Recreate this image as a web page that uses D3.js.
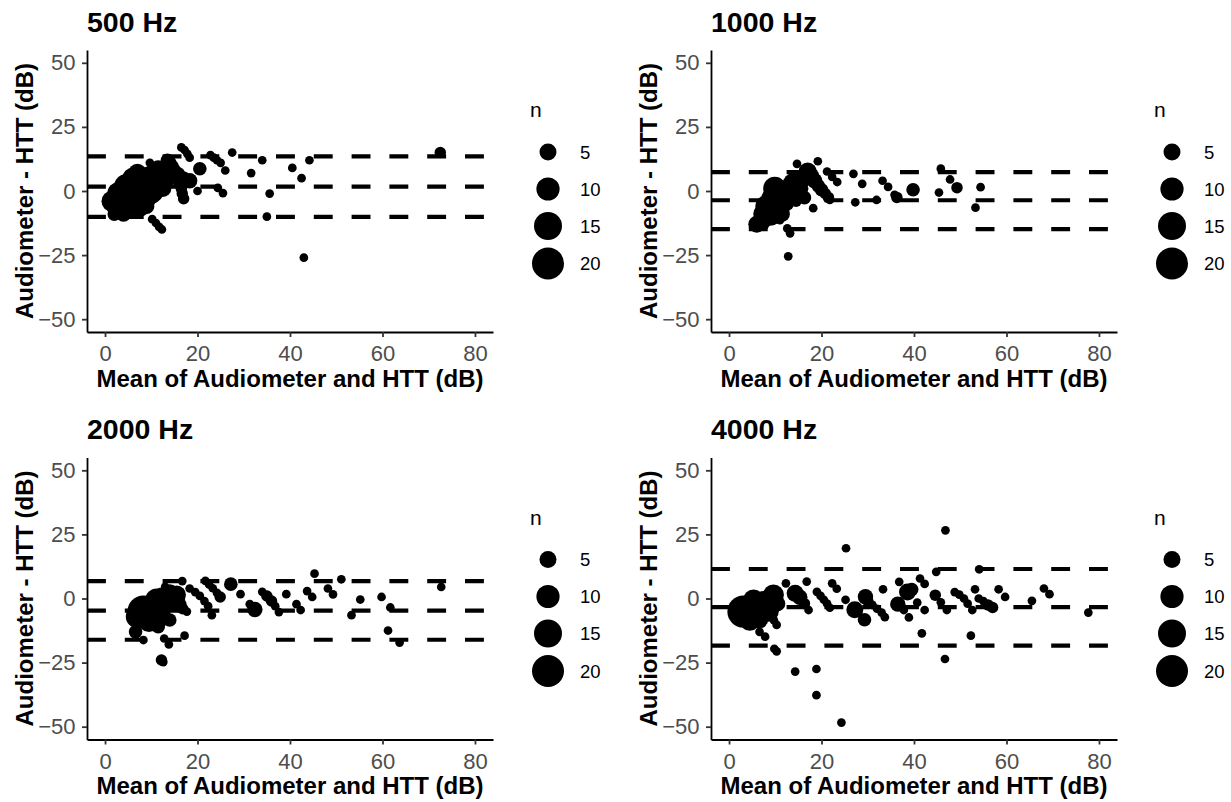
<!DOCTYPE html>
<html>
<head>
<meta charset="utf-8">
<script src="https://cdn.jsdelivr.net/npm/d3@7"></script>
<style>
body { margin: 0; background: #fff; }
svg { display: block; font-family: "Liberation Sans", Arial, sans-serif; }
</style>
</head>
<body>
<div id="chart"></div>
<script>
var titles = ['500 Hz', '1000 Hz', '2000 Hz', '4000 Hz'];
var xTicks = [0, 20, 40, 60, 80];
var yTicks = [-50, -25, 0, 25, 50];
var legendN = [5, 10, 15, 20];

// [mean, difference, n]
var pts500 = [
	[72.5, 15, 2], [44.2, 12, 1], [42.5, 5, 1], [40.5, 9, 1], [43, -26, 1], [35, -10, 1], [35.6, -1, 1],
	[34, 12, 1], [31.6, 7, 1], [27.5, 15, 1], [26, 8, 1], [25.5, -0.8, 1], [24.4, 1.2, 1],
	[22.8, 14, 1], [23.5, 13, 1], [24.2, 12, 1], [25, 11, 1], [20.5, 8.7, 3], [20, 0, 1],
	[16.5, 17, 1], [17.2, 16, 1], [17.8, 14.5, 1], [18.3, 13, 1],
	[13.5, 12, 3], [14, 11, 3], [14.5, 9.5, 3], [15, 8, 3], [15.5, 6.5, 3], [16, 5, 2], [16.2, 3, 3],
	[16.5, 1, 2], [16.7, -1, 2], [17, -3, 2], [16, 7, 2], [17, 5.5, 2], [18.3, 4, 4],
	[10.2, -11, 1], [11, -12.5, 1], [11.7, -14, 1], [12.3, -15, 1], [9.7, 11, 1], [11.2, -1.5, 2],
	[1.5, -4, 8], [2.5, -7, 6], [3, -1, 10], [3.5, -6, 12], [4.5, 2, 10], [5, -4, 16], [6, 5, 8],
	[6.5, -1, 20], [7, 7, 6], [7.5, -6, 8], [8, 2, 14], [8.5, -3, 10], [9.5, 5, 10], [10, -1, 8],
	[10.5, 7, 6], [11, 3, 10], [11.5, 9, 4], [12, 5, 6], [12.5, 1, 5], [12.8, 8, 4], [13.5, 4, 3],
	[9, -6, 4], [4, -9, 4], [2, -9, 3]
];
var pts1000 = [
	[54.4, 1.5, 1], [53.3, -6.5, 1], [49.3, 1.3, 2], [47.8, 4.5, 1], [45.8, 8.7, 1], [45.4, -0.6, 1],
	[39.8, 0.5, 3], [36.3, -2.5, 2], [35.8, -1.5, 1], [34.4, 1.6, 1], [33.2, 4, 1], [31.9, -3.5, 1],
	[28.8, 2.8, 1], [27.3, -4.4, 1], [26.9, 6.7, 1], [23.4, 3.5, 1], [22.3, 5.5, 1], [21.2, 7.6, 1],
	[19.2, 11.6, 1], [18.2, -6.7, 1], [14.7, 10.6, 1], [12.8, -25.5, 1], [13.2, -16.5, 1],
	[12.6, -14.6, 1], [11, -11.4, 1],
	[17, 7.5, 6], [17.8, 6, 4], [18.5, 4, 4], [19.3, 2, 3], [20, 0.5, 3], [20.8, -1, 2], [21.5, -2.5, 2],
	[21.8, -3.5, 1], [16.3, -2.6, 3],
	[6, -13, 5], [7, -12, 6], [7.5, -9, 8], [8.2, -6, 10], [9, -10, 6], [9.5, -3, 10], [9.9, 1, 10],
	[10.5, -6, 8], [11, -2, 8], [11.5, -9, 4], [12, -4, 8], [12.5, 0, 6], [13, -1.5, 10], [13.9, 2.9, 8],
	[14.5, -0.5, 6], [15, 4, 6], [15.5, 1, 4], [16, 5, 6], [14.5, -4, 2]
];
var pts2000 = [
	[72.7, 4.5, 1], [63.7, -17.2, 1], [61.2, -12.5, 1], [61.7, -3.5, 1], [59.8, 0.6, 1], [55.2, -0.4, 1],
	[53.3, -6.5, 1], [51.1, 7.5, 1], [49.3, 1.6, 1], [48.2, 3.9, 1], [45.3, 9.7, 1], [44.8, 0.6, 1],
	[43.7, 2.9, 1], [42.3, -4.5, 1], [41.4, -2.2, 1], [39.2, 1.7, 1],
	[34, 2.6, 1], [35, 1, 2], [36, -1, 2], [36.8, -3, 1], [37.6, -5.3, 1],
	[32.4, -4.3, 4], [31.3, -2.2, 1], [29.3, 1.7, 1], [27.2, 5.6, 3],
	[21.7, 6.9, 1], [22.5, 5.5, 1], [23.3, 4, 1], [24.2, 2.2, 1], [24.9, 0.6, 2],
	[18.3, 3.9, 1], [19.5, 2.5, 1], [20.5, 1, 1], [21.5, -1, 1], [22.3, -3, 1], [23.1, -6.5, 1],
	[16.7, 6.8, 1], [17.2, -14.5, 1], [13.8, -17.9, 1], [12.8, -15.6, 1], [12.2, -24, 2], [12.6, -24.8, 1],
	[8.3, -16.2, 1], [6.6, -13, 3], [17.7, -5.1, 1], [13, 4.6, 1], [14, -8.4, 3],
	[8.3, -5.1, 20], [11.2, -0.6, 10], [14.8, -0.6, 10], [7, -7, 10], [9.5, -9, 8], [10.5, -4, 12],
	[12, -7, 8], [13, -2, 8], [15.5, 1.5, 6], [16, -2.5, 4], [14, 2, 6], [11.5, -11, 3], [16.8, -4, 2],
	[12.3, 1, 5]
];
var pts4000 = [
	[77.7, -5.5, 1], [69.3, 1.7, 1], [68.1, 3.9, 1], [65.5, -0.9, 1], [59.7, 0.6, 1], [58.3, 3.6, 1],
	[54, 0, 1], [55, -1, 1], [56, -2.5, 2], [57, -3.5, 2], [54.1, 11.4, 1], [53.2, 3.6, 1], [52.3, -14.5, 1],
	[48.8, 2.5, 1], [49.8, 1.5, 1], [50.8, 0, 1], [51.6, -2, 1], [52.6, -4.5, 1],
	[44.8, 10.4, 1], [46.8, 26.6, 1], [46.7, -23.6, 1], [44.6, 1.3, 2], [45.8, -1.5, 1], [47.1, -4.5, 1],
	[42.3, -4.5, 1], [41.7, -13.6, 1], [41.3, 7.8, 1], [42.3, 5.7, 1], [40.7, -1.6, 1], [38.6, 2.5, 5],
	[39.5, 3.5, 3], [38.9, -7.4, 1], [36.8, 6.5, 1], [36.5, -2.2, 4], [37.8, -4.5, 1], [33.3, 3.6, 1],
	[30, -1, 2], [31, -2.5, 1], [32, -4, 1], [33, -5.5, 1], [33.7, -7.3, 1],
	[29.5, 0.7, 4], [29.3, -8.3, 3], [27.2, -4.4, 5], [25.3, 19.6, 1], [25.2, -0.5, 1], [24.3, -48.4, 1],
	[22.3, 5.9, 1], [23.3, 3.8, 1],
	[19, 2.6, 1], [19.8, 1, 1], [20.5, -0.5, 1], [21.2, -2, 1], [21.8, -3.6, 1],
	[18.9, -27.5, 1], [18.9, -37.7, 1], [16.8, 6.6, 1], [14.3, -28.5, 1],
	[14.3, 2, 5], [15.3, 0.5, 4], [16.3, -2, 2], [17.2, -4.5, 1],
	[12.3, 5.9, 1], [9.8, -19.6, 1], [10.3, -20.6, 1], [10.3, -10.3, 1], [9.7, -8.5, 1], [7.8, -14.9, 1],
	[7.1, -9.7, 1], [6.6, -13, 1],
	[3.1, -5.1, 20], [5.3, -0.6, 8], [9.6, 1.4, 8], [5.5, -5, 14], [7.5, -2, 12], [8.5, -5, 8],
	[4.5, -8.5, 8], [10.5, -2, 4], [6.5, -8, 6]
];

// upper limit, mean bias, lower limit
var lines500 = [13.5, 1.7, -10.1];
var lines1000 = [7.4, -3.6, -14.9];
var lines2000 = [6.8, -4.7, -16.1];
var lines4000 = [11.5, -3.4, -18.4];

var panels = [
	{ title: titles[0], pts: pts500, lines: lines500, dx: 0, dy: 0 },
	{ title: titles[1], pts: pts1000, lines: lines1000, dx: 624, dy: 0 },
	{ title: titles[2], pts: pts2000, lines: lines2000, dx: 0, dy: 407.5 },
	{ title: titles[3], pts: pts4000, lines: lines4000, dx: 624, dy: 407.5 }
];

var w = 1231;
var h = 802;
var plotL = 87, plotR = 493, plotT = 50, plotB = 332;

var svg = d3.select('#chart').append('svg').attr('width', w).attr('height', h);

var xScale = d3.scaleLinear().domain([-3.9, 83.9]).range([plotL, plotR]);
var yScale = d3.scaleLinear().domain([-55, 55]).range([plotB, plotT]);
var rScale = d3.scaleSqrt().domain([0, 20]).range([1, 16]);

panels.forEach(function(p) {
	var g = svg.append('g').attr('transform', 'translate(' + p.dx + ',' + p.dy + ')');

	g.append('text')
		.attr('x', 87)
		.attr('y', 31.5)
		.attr('font-size', '28.5px')
		.attr('font-weight', 'bold')
		.attr('fill', '#000')
		.text(p.title);

	// bias and limits of agreement
	g.selectAll('line.loa')
		.data(p.lines)
		.enter()
		.append('line')
		.attr('class', 'loa')
		.attr('x1', plotL)
		.attr('x2', plotR)
		.attr('y1', function(d) { return yScale(d); })
		.attr('y2', function(d) { return yScale(d); })
		.attr('stroke', '#000')
		.attr('stroke-width', 4.2)
		.attr('stroke-dasharray', '18.9 18.9');

	g.selectAll('circle.pt')
		.data(p.pts)
		.enter()
		.append('circle')
		.attr('class', 'pt')
		.attr('cx', function(d) { return xScale(d[0]); })
		.attr('cy', function(d) { return yScale(d[1]); })
		.attr('r', function(d) { return rScale(d[2]); })
		.attr('fill', '#000');

	var xAxis = d3.axisBottom(xScale).tickValues(xTicks).tickSize(5).tickSizeOuter(0).tickPadding(8.5);
	var yAxis = d3.axisLeft(yScale).tickValues(yTicks).tickSize(5).tickSizeOuter(0).tickPadding(6.5);

	var gx = g.append('g').attr('transform', 'translate(0,' + plotB + ')').call(xAxis);
	var gy = g.append('g').attr('transform', 'translate(' + plotL + ',0)').call(yAxis);

	[gx, gy].forEach(function(a) {
		a.select('.domain').attr('stroke', '#000').attr('stroke-width', 1.8);
		a.selectAll('.tick line').attr('stroke', '#333').attr('stroke-width', 1.8);
		a.selectAll('.tick text')
			.attr('fill', '#4d4d4d')
			.attr('font-size', '22px')
			.attr('font-family', '"Liberation Sans", Arial, sans-serif');
	});

	g.append('text')
		.attr('x', (plotL + plotR) / 2)
		.attr('y', 386.5)
		.attr('text-anchor', 'middle')
		.attr('font-size', '24px')
		.attr('font-weight', 'bold')
		.text('Mean of Audiometer and HTT (dB)');

	g.append('text')
		.attr('transform', 'translate(32.5,' + (plotT + plotB) / 2 + ') rotate(-90)')
		.attr('text-anchor', 'middle')
		.attr('font-size', '24px')
		.attr('font-weight', 'bold')
		.text('Audiometer - HTT (dB)');

	// size legend
	var lg = g.append('g');
	lg.append('text').attr('x', 530).attr('y', 117).attr('font-size', '21px').text('n');

	var keyH = legendN.map(function(n) { return Math.max(37, 2 * rScale(n) + 6); });
	var cy = [];
	legendN.forEach(function(n, i) {
		cy.push(i === 0 ? 152 : cy[i - 1] + (keyH[i - 1] + keyH[i]) / 2);
	});

	lg.selectAll('circle')
		.data(legendN)
		.enter()
		.append('circle')
		.attr('cx', 548)
		.attr('cy', function(d, i) { return cy[i]; })
		.attr('r', function(d) { return rScale(d); })
		.attr('fill', '#000');

	lg.selectAll('text.lab')
		.data(legendN)
		.enter()
		.append('text')
		.attr('class', 'lab')
		.attr('x', 580)
		.attr('y', function(d, i) { return cy[i] + 6.5; })
		.attr('font-size', '18.5px')
		.text(function(d) { return d; });
});
</script>
</body>
</html>
